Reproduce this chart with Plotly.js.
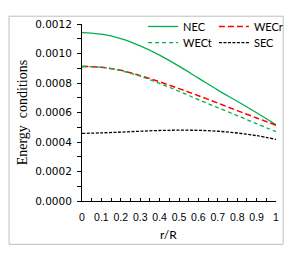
<!DOCTYPE html>
<html><head><meta charset="utf-8">
<script src="https://cdn.plot.ly/plotly-3.0.1.min.js"></script>
<style>html,body{margin:0;padding:0;background:#fff}#c{width:300px;height:257px}</style>
</head><body><div id="c"></div>
<script>
const rR = [0, 0.1, 0.2, 0.3, 0.4, 0.5, 0.6, 0.7, 0.8, 0.9, 1.0];
const NEC  = [0.001142, 0.001131, 0.001101, 0.001052, 0.000989, 0.000914, 0.000833, 0.000752, 0.000676, 0.000598, 0.000517];
const WECr = [0.000912, 0.000907, 0.000886, 0.000850, 0.000808, 0.000762, 0.000714, 0.000664, 0.000613, 0.000563, 0.000514];
const WECt = [0.000912, 0.000907, 0.000884, 0.000846, 0.000797, 0.000744, 0.000687, 0.000633, 0.000579, 0.000524, 0.000470];
const SEC  = [0.000458, 0.000462, 0.000467, 0.000473, 0.000478, 0.000480, 0.000479, 0.000473, 0.000461, 0.000443, 0.000418];
const names = ['NEC', 'WECr', 'WECt', 'SEC'];
const xTicks = [0, 0.1, 0.2, 0.3, 0.4, 0.5, 0.6, 0.7, 0.8, 0.9, 1];

const data = [
  {x: rR, y: NEC, name: names[0], mode: 'lines', line: {color: '#00b050', width: 1.3, shape: 'spline'}, legend: 'legend'},
  {x: rR, y: WECr, name: names[1], mode: 'lines', line: {color: '#ff0000', width: 1.5, dash: '6px,3px', shape: 'spline'}, legend: 'legend2'},
  {x: rR, y: WECt, name: names[2], mode: 'lines', line: {color: '#00b050', width: 1.3, dash: '4px,3px', shape: 'spline'}, legend: 'legend3'},
  {x: rR, y: SEC, name: names[3], mode: 'lines', line: {color: '#000000', width: 1.3, dash: '3px,1.5px', shape: 'spline'}, legend: 'legend4'}
];

const legFont = {family: 'Lato, "Liberation Sans", sans-serif', size: 11, color: '#000'};
function leg(x, y) {
  return {x: x, y: y, xanchor: 'left', yanchor: 'middle', bgcolor: 'rgba(0,0,0,0)', font: legFont, itemwidth: 30, borderwidth: 0};
}
const layout = {
  width: 300, height: 257,
  margin: {l: 82, r: 19, t: 13, b: 56},
  paper_bgcolor: '#fff', plot_bgcolor: '#fff',
  showlegend: true,
  legend: leg(0.315, 0.986),
  legend2: leg(0.68, 0.986),
  legend3: leg(0.315, 0.895),
  legend4: leg(0.68, 0.895),
  xaxis: {
    range: [0, 1], tickvals: xTicks, ticktext: xTicks.map(String),
    ticks: 'inside', ticklen: 3, tickcolor: '#000', tickwidth: 1, ticklabelstandoff: 6,
    minor: {dtick: 0.05, ticks: 'inside', ticklen: 3, tickcolor: '#000'},
    showline: true, linecolor: '#000', linewidth: 1, showgrid: false, zeroline: false,
    tickfont: {family: '"Liberation Sans", Arial, sans-serif', size: 10.5, color: '#000'},
    fixedrange: true
  },
  yaxis: {
    range: [0, 0.0012], dtick: 0.0002, tick0: 0, tickformat: '.4f',
    ticks: 'outside', ticklen: 4, tickcolor: '#000', tickwidth: 1, ticklabelstandoff: 3,
    minor: {dtick: 0.0001, ticks: 'outside', ticklen: 4, tickcolor: '#000'},
    showline: true, linecolor: '#000', linewidth: 1, showgrid: false, zeroline: false,
    tickfont: {family: '"DejaVu Sans", sans-serif', size: 10.5, color: '#000'},
    fixedrange: true
  },
  annotations: [
    {text: 'r/R', xref: 'paper', yref: 'paper', x: 0.445, y: -0.187, xanchor: 'center', yanchor: 'middle', showarrow: false,
     font: {family: 'Lato, "Liberation Sans", sans-serif', size: 12, color: '#000'}},
    {text: 'Energy&nbsp; conditions', xref: 'paper', yref: 'paper', x: -0.305, y: 0.5, xanchor: 'center', yanchor: 'middle', textangle: -90, showarrow: false,
     font: {family: '"Liberation Serif", "Times New Roman", serif', size: 14, color: '#000'}}
  ],
  shapes: [
    {type: 'rect', xref: 'paper', yref: 'paper', x0: -0.376, x1: 1.037, y0: -0.245, y1: 1.044, line: {color: '#bfbfbf', width: 1}, fillcolor: 'rgba(0,0,0,0)', layer: 'below'}
  ]
};
Plotly.newPlot('c', data, layout, {displayModeBar: false, staticPlot: true});
</script></body></html>
